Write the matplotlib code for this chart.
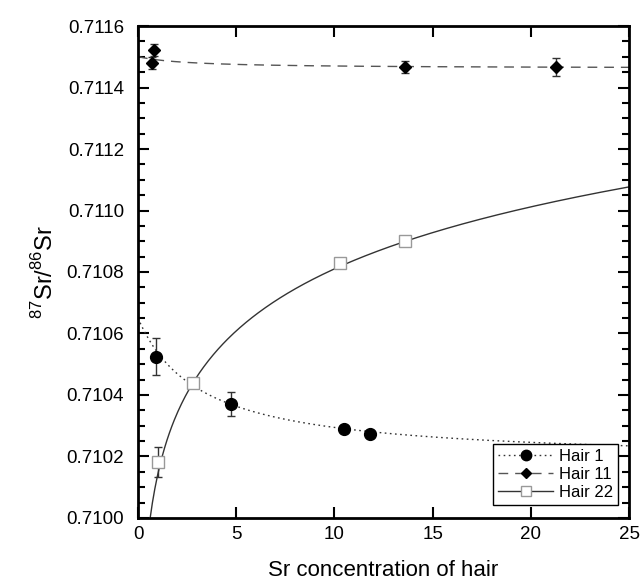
import numpy as np
import matplotlib
matplotlib.use("Agg")
import matplotlib.pyplot as plt
from matplotlib.ticker import MultipleLocator, FormatStrFormatter

plt.rcParams['font.family'] = ['Liberation Sans', 'DejaVu Sans']
plt.rcParams['mathtext.fontset'] = 'custom'
plt.rcParams['mathtext.rm'] = 'Liberation Sans'

# Hair 1 (circles)
h1_x = [0.9, 4.75, 10.5, 11.8]
h1_y = [0.710524, 0.710371, 0.710289, 0.710273]
h1_err = [0.00006, 0.00004, 0.0, 0.0]

# Hair 11 (diamonds)
h11_x = [0.7, 0.8, 13.6, 21.3]
h11_y = [0.711480, 0.711522, 0.711467, 0.711467]
h11_err = [0.00002, 0.00002, 0.00002, 0.00003]

# Hair 22 (open squares)
h22_x = [1.0, 2.8, 10.3, 13.6]
h22_y = [0.710182, 0.710440, 0.710830, 0.710900]
h22_err = [0.00005, 0.0, 0.00001, 0.0]

# fitted curve coefficients
h1_fit = (0.710182, 0.00148, 3.16)      # a + b/(x+c)
h11_fit = (0.711462, 0.0001, 2.6)       # a + b/(x+c)
h22_fit = (0.710140, 0.000291)          # a + b*ln(x)

fig = plt.figure(figsize=(6.41, 5.82), dpi=100)
ax = fig.add_axes([0.2153, 0.11, 0.766, 0.8453])

xs = np.linspace(0.0, 25, 400)
xl = np.linspace(0.3, 25, 400)

ax.plot(xs, h1_fit[0] + h1_fit[1] / (xs + h1_fit[2]), ls=(0, (1.2, 2.5)), color='#333333', lw=1)
ax.plot(xs, h11_fit[0] + h11_fit[1] / (xs + h11_fit[2]), ls=(0, (7, 5)), color='#555555', lw=1)
ax.plot(xl, h22_fit[0] + h22_fit[1] * np.log(xl), ls='-', color='#333333', lw=1)

ax.errorbar(h1_x, h1_y, yerr=h1_err, fmt='o', ms=8.5, color='black', ecolor='#333333',
            elinewidth=1, capsize=3, zorder=3)
ax.errorbar(h11_x, h11_y, yerr=h11_err, fmt='D', ms=6.5, color='black', ecolor='#333333',
            elinewidth=1, capsize=3, zorder=3)
ax.errorbar(h22_x, h22_y, yerr=h22_err, fmt='s', ms=8.5, mfc='white', mec='#999999', mew=1,
            ecolor='#333333', elinewidth=1, capsize=3, zorder=3)

# legend proxies
l1, = ax.plot([], [], ls=(0, (1.2, 2.5)), color='#333333', lw=1, marker='o', ms=7.5, mfc='black', mec='black')
l2, = ax.plot([], [], ls=(0, (7, 5)), color='#555555', lw=1, marker='D', ms=5.5, mfc='black', mec='black')
l3, = ax.plot([], [], ls='-', color='#333333', lw=1, marker='s', ms=7.5, mfc='white', mec='#999999')
leg = ax.legend([l1, l2, l3], ['Hair 1', 'Hair 11', 'Hair 22'], loc='lower right',
                fontsize=12, frameon=True, fancybox=False, edgecolor='black', framealpha=1,
                handlelength=3.3, borderpad=0.3, labelspacing=0.2, handletextpad=0.35,
                bbox_to_anchor=(0.978, 0.026), borderaxespad=0)
leg.get_frame().set_linewidth(1)

ax.set_xlim(0, 25)
ax.set_ylim(0.7100, 0.7116)
ax.xaxis.set_major_locator(MultipleLocator(5))
ax.yaxis.set_major_locator(MultipleLocator(0.0002))
ax.yaxis.set_minor_locator(MultipleLocator(0.00005))
ax.yaxis.set_major_formatter(FormatStrFormatter('%.4f'))
ax.tick_params(which='both', direction='in', top=True, right=True, labelsize=13.5, width=1.5)
ax.tick_params(which='major', length=8)
ax.tick_params(axis='y', which='major', pad=10)
ax.tick_params(axis='x', which='major', pad=6)
ax.tick_params(which='minor', length=5)
for s in ax.spines.values():
    s.set_linewidth(2)

ax.set_xlabel('Sr concentration of hair', fontsize=16, labelpad=12)
ax.set_ylabel('$^{87}$Sr/$^{86}$Sr', fontsize=17, labelpad=6)

fig.savefig('out.png', dpi=100)
